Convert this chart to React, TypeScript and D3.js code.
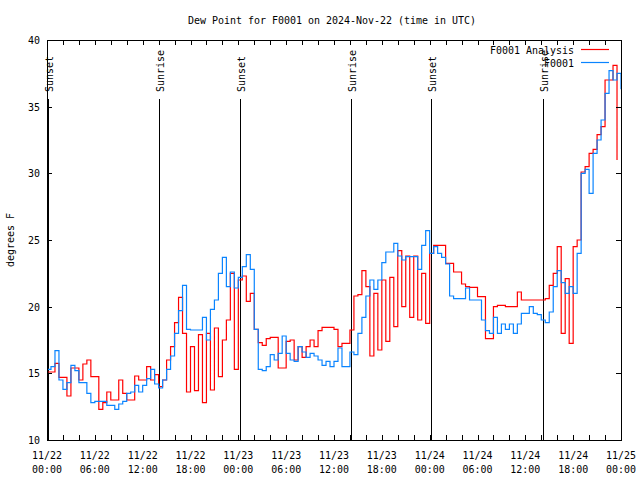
import React from "react";
import * as d3 from "d3";

const START = Date.UTC(2024, 10, 22, 0, 0);
const STEP_MIN = 30;

const observed = [
  15.3, 15.5, 16.7, 14.5, 13.8, 14.3, 15.6, 15.2, 14.3, 14.3,
  13.5, 12.8, 12.9, 12.9, 12.9, 12.6, 12.6, 12.3, 12.7, 12.9,
  13.5, 13.6, 14.1, 13.6, 14.1, 14.6, 15.3, 14.2, 13.9, 14.5,
  15.3, 16.3, 18.0, 19.7, 21.6, 18.3, 18.25, 18.25, 18.25, 19.2,
  17.5, 19.8, 20.5, 22.5, 23.7, 21.5, 22.6, 21.4, 22.2, 23.0,
  23.9, 22.8, 18.3, 15.3, 15.2, 15.5, 16.4, 16.0, 16.5, 17.8,
  16.5, 16.0, 15.9, 17.0, 16.6, 16.2, 16.5, 16.3, 16.0, 15.6,
  15.9, 15.5, 15.9, 16.9, 15.5, 15.5, 16.6, 16.4, 18.0, 19.2,
  20.8, 22.0, 21.3, 22.0, 23.3, 24.1, 24.1, 24.75, 23.8, 23.5,
  23.75, 23.75, 23.75, 22.8, 24.6, 25.7, 24.0, 24.5, 24.0, 23.7,
  23.2, 20.8, 20.6, 20.6, 20.6, 21.4, 20.5, 20.5, 20.5, 19.0,
  18.2, 18.0, 19.2, 18.0, 18.7, 18.3, 18.7, 18.0, 18.7, 19.5,
  19.5, 20.0, 19.5, 19.4, 19.0, 18.8, 19.6, 21.5, 22.7, 21.8,
  21.0, 21.5, 21.0, 24.0, 30.0, 30.3, 28.5, 31.5, 32.5, 34.0,
  36.0, 37.7, 37.0, 37.5, 36.3,
];

const analysis = [
  15.1, 15.1, 15.75, 14.7, 14.7, 13.3, 15.4, 15.4, 14.5, 15.7,
  16.0, 14.75, 14.75, 12.3, 12.8, 13.6, 13.0, 13.0, 14.5, 13.5,
  13.0, 13.0, 14.8, 14.5, 14.5, 15.5, 14.5, 14.9, 14.0, 14.5,
  16.0, 17.0, 18.8, 20.7, 18.0, 13.6, 17.0, 13.7, 17.9, 12.8,
  18.0, 13.75, 18.4, 14.75, 17.5, 19.0, 22.5, 15.3, 22.0, 22.3,
  20.4, 21.0, 18.3, 17.3, 17.1, 17.6, 17.7, 17.7, 15.4, 15.4,
  17.4, 17.5, 16.0, 17.0, 16.2, 17.0, 17.5, 17.0, 18.2, 18.45,
  18.45, 18.45, 18.3, 17.0, 17.25, 17.25, 18.25, 20.8, 20.9, 22.7,
  21.5, 16.3, 21.0, 16.75, 22.0, 17.4, 22.2, 18.5, 24.2, 20.0,
  23.8, 19.2, 23.8, 19.0, 22.5, 18.75, 24.0, 24.6, 24.6, 24.6,
  23.25, 23.25, 22.6, 22.6, 21.7, 21.5, 21.45, 21.45, 20.75, 20.75,
  17.6, 17.6, 20.0, 20.1, 20.1, 20.0, 20.0, 20.0, 21.1, 20.5,
  20.5, 20.5, 20.5, 20.5, 20.5, 20.6, 21.6, 22.5, 24.5, 18.0,
  22.1, 17.25, 24.5, 25.0, 30.1, 30.5, 31.5, 31.8, 32.9, 33.5,
  37.0, 37.0, 38.1, 31.0,
];

const sunEvents = [
  { label: "Sunset", time: "2024-11-22T00:10:00Z" },
  { label: "Sunrise", time: "2024-11-22T14:05:00Z" },
  { label: "Sunset", time: "2024-11-23T00:12:00Z" },
  { label: "Sunrise", time: "2024-11-23T14:07:00Z" },
  { label: "Sunset", time: "2024-11-24T00:11:00Z" },
  { label: "Sunrise", time: "2024-11-24T14:12:00Z" },
];

const yTicks = [10, 15, 20, 25, 30, 35, 40];
const xDomain = ["2024-11-22T00:00:00Z", "2024-11-25T00:00:00Z"];

const W = 640;
const H = 480;
const M = { left: 47, right: 621, top: 40, bottom: 440 };
const FONT = "DejaVu Sans Mono";
const CW = 6;

const T = ({ x, y, text, anchor = "start", rotate = 0, fill = "#000" }: any) => (
  <text
    x={x}
    y={y}
    textAnchor={anchor}
    fontFamily={FONT}
    fontSize={11}
    fill={fill}
    textLength={text.length * CW}
    lengthAdjust="spacingAndGlyphs"
    transform={rotate ? `rotate(${rotate},${x},${y})` : undefined}
  >
    {text}
  </text>
);

export default function App() {
  const x = d3
    .scaleUtc()
    .domain(xDomain.map((d) => new Date(d)))
    .range([M.left, M.right]);
  const y = d3.scaleLinear().domain([10, 40]).range([M.bottom, M.top]);

  const toPts = (arr: number[]) =>
    arr.map((v, i) => ({ t: new Date(START + i * STEP_MIN * 60000), v }));

  const line = d3
    .line<{ t: Date; v: number }>()
    .x((d) => x(d.t))
    .y((d) => y(d.v))
    .curve(d3.curveStepAfter);

  const minorTicks = x.ticks(d3.utcHour.every(2) as any);
  const majorTicks = x.ticks(d3.utcHour.every(6) as any);
  const fmtDate = d3.utcFormat("%m/%d");
  const fmtTime = d3.utcFormat("%H:%M");

  return (
    <svg
      width={W}
      height={H}
      style={{ position: "absolute", left: 0, top: 0, background: "#fff" }}
    >
      <rect x={0} y={0} width={W} height={H} fill="#fff" />
      <T x={332} y={24} text="Dew Point for F0001 on 2024-Nov-22 (time in UTC)" anchor="middle" />

      {/* sun events */}
      {sunEvents.map((e, i) => {
        const xx = Math.round(x(new Date(e.time))) + 0.5;
        return (
          <g key={i}>
            <line x1={xx} x2={xx} y1={99} y2={M.bottom} stroke="#000" strokeWidth={1} />
            <T x={xx + 4} y={92} text={e.label} anchor="start" rotate={-90} />
          </g>
        );
      })}

      {/* data */}
      <path d={line(toPts(analysis)) || ""} fill="none" stroke="#ff0000" strokeWidth={1.2} />
      <path d={line(toPts(observed)) || ""} fill="none" stroke="#0a84ff" strokeWidth={1.2} />

      {/* frame */}
      <rect
        x={M.left + 0.5}
        y={M.top + 0.5}
        width={M.right - M.left}
        height={M.bottom - M.top}
        fill="none"
        stroke="#000"
        strokeWidth={1}
      />

      {/* x ticks */}
      {minorTicks.map((t, i) => {
        const xx = Math.round(x(t)) + 0.5;
        return (
          <g key={"xt" + i}>
            <line x1={xx} x2={xx} y1={M.bottom} y2={M.bottom - 5} stroke="#000" />
            <line x1={xx} x2={xx} y1={M.top} y2={M.top + 5} stroke="#000" />
          </g>
        );
      })}
      {majorTicks.map((t, i) => {
        const xx = x(t);
        return (
          <g key={"xl" + i}>
            <T x={xx} y={459} text={fmtDate(t)} anchor="middle" />
            <T x={xx} y={473} text={fmtTime(t)} anchor="middle" />
          </g>
        );
      })}

      {/* y ticks */}
      {yTicks.map((v, i) => {
        const yy = Math.round(y(v)) + 0.5;
        return (
          <g key={"yt" + i}>
            <line x1={M.left} x2={M.left + 5} y1={yy} y2={yy} stroke="#000" />
            <line x1={M.right} x2={M.right - 5} y1={yy} y2={yy} stroke="#000" />
            <T x={40} y={y(v) + 4} text={String(v)} anchor="end" />
          </g>
        );
      })}
      <T x={14} y={240} text="degrees F" anchor="middle" rotate={-90} />

      {/* legend */}
      <T x={574} y={54} text="F0001 Analysis" anchor="end" />
      <line x1={581} x2={609} y1={49.5} y2={49.5} stroke="#ff0000" strokeWidth={1.2} />
      <T x={574} y={67} text="F0001" anchor="end" />
      <line x1={581} x2={609} y1={62.5} y2={62.5} stroke="#0a84ff" strokeWidth={1.2} />
    </svg>
  );
}
